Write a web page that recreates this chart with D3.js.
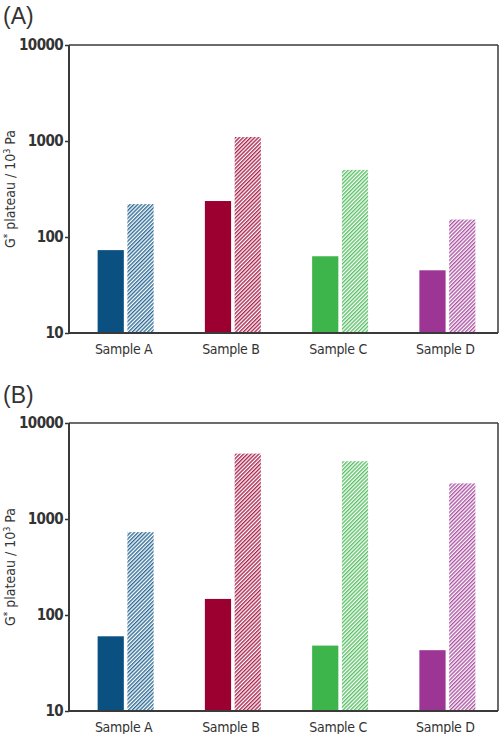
<!DOCTYPE html>
<meta charset="utf-8">
<style>
body { margin: 0; background: #fff; }
svg text { fill: #333; }
.tick text { font-family: "Liberation Sans Narrow", "DejaVu Sans Condensed", sans-serif; font-size: 15px; font-weight: bold; letter-spacing: -0.6px; }
.cat { font-family: "DejaVu Sans Condensed", "Liberation Sans Narrow", sans-serif; font-size: 14px; letter-spacing: -0.3px; }
.panel { font-family: "Liberation Sans Narrow", sans-serif; font-size: 23px; }
.ylab { font-family: "DejaVu Sans Condensed", sans-serif; font-size: 14px; }
</style>
<body>
<div id="chart"></div>
<script src="https://d3js.org/d3.v7.min.js"></script>
<script>

var samples = ["Sample A", "Sample B", "Sample C", "Sample D"];
var series = ["solid", "hatched"];
var colors = ["#0a5182", "#9b0030", "#3db54a", "#9c3593"];
var yTicks = [10, 100, 1000, 10000];

var aSolid   = [73, 237, 63, 45];
var aHatched = [220, 1100, 500, 152];
var bSolid   = [60, 147, 48, 43];
var bHatched = [730, 4800, 4000, 2350];

var panels = [
  {label: "(A)", top: 45, solid: aSolid, hatched: aHatched},
  {label: "(B)", top: 423, solid: bSolid, hatched: bHatched}
];

var W = 499, H = 734;
var left = 69, right = 498, plotH = 288;

var svg = d3.select("#chart").append("svg").attr("width", W).attr("height", H);

// hatch patterns, one per colour
var defs = svg.append("defs");
colors.forEach(function(c, i){
  var p = defs.append("pattern").attr("id", "hatch" + i)
      .attr("patternUnits", "userSpaceOnUse").attr("width", 2.7).attr("height", 2.7)
      .attr("patternTransform", "rotate(45)");
  p.append("rect").attr("width", 2.7).attr("height", 2.7).attr("fill", "#fff");
  p.append("line").attr("x1", 0.7).attr("y1", 0).attr("x2", 0.7).attr("y2", 2.7)
      .attr("stroke", c).attr("stroke-width", 1.4).attr("stroke-opacity", 0.85);
});

var x = d3.scaleBand().domain(samples).range([left, right]);
var x1 = d3.scaleBand().domain(series).range([0, 56]).paddingInner(0.12);

panels.forEach(function(pn){
  var g = svg.append("g").attr("transform", "translate(0," + pn.top + ")");
  var y = d3.scaleLog().domain([10, 10000]).range([plotH, 0]);

  g.append("text").attr("class", "panel").attr("x", 3).attr("y", pn.top === 45 ? -21 : -20).text(pn.label);

  var rows = samples.map(function(s, i){
    return [{s: s, i: i, k: "solid", v: pn.solid[i]}, {s: s, i: i, k: "hatched", v: pn.hatched[i]}];
  });

  var grp = g.selectAll(".grp").data(rows).enter().append("g")
      .attr("transform", function(d){ return "translate(" + (x(d[0].s) + x.bandwidth()/2 + 3 - 28) + ",0)"; });

  grp.selectAll("rect").data(function(d){ return d; }).enter().append("rect")
      .attr("x", function(d){ return x1(d.k); })
      .attr("width", x1.bandwidth())
      .attr("y", function(d){ return y(d.v); })
      .attr("height", function(d){ return plotH - y(d.v); })
      .attr("fill", function(d){ return d.k === "solid" ? colors[d.i] : "url(#hatch" + d.i + ")"; });

  // axes
  var ax = g.append("g").attr("transform", "translate(" + left + ",0)")
      .call(d3.axisLeft(y).tickValues(yTicks).tickFormat(d3.format("d")).tickSize(4).tickPadding(2));
  ax.select(".domain").remove();
  ax.selectAll(".tick line").attr("stroke", "#333").attr("stroke-width", 1.5);

  var frame = g.append("g").attr("fill", "none").attr("stroke", "#3a3a3a").attr("stroke-width", 2);
  frame.append("line").attr("x1", left).attr("x2", left).attr("y1", 0).attr("y2", plotH);
  frame.append("line").attr("x1", left).attr("x2", right).attr("y1", plotH).attr("y2", plotH);
  frame.append("line").attr("x1", left).attr("x2", right).attr("y1", 0).attr("y2", 0).attr("stroke-width", 1.5);
  frame.append("line").attr("x1", right).attr("x2", right).attr("y1", 0).attr("y2", plotH).attr("stroke-width", 1.5);

  g.selectAll(".cat").data(samples).enter().append("text").attr("class", "cat")
      .attr("x", function(d){ return x(d) + x.bandwidth()/2 + 1; })
      .attr("y", plotH + 21)
      .attr("text-anchor", "middle")
      .text(function(d){ return d; });

  var yl = g.append("text").attr("class", "ylab")
      .attr("transform", "translate(15," + (plotH/2 + 0) + ") rotate(-90)")
      .attr("text-anchor", "middle");
  yl.append("tspan").text("G");
  yl.append("tspan").attr("dy", -4).attr("font-size", 10).text("*");
  yl.append("tspan").attr("dy", 4).text(" plateau / 10");
  yl.append("tspan").attr("dy", -5).attr("font-size", 9).text("3");
  yl.append("tspan").attr("dy", 5).text(" Pa");
});

</script>
</body>
